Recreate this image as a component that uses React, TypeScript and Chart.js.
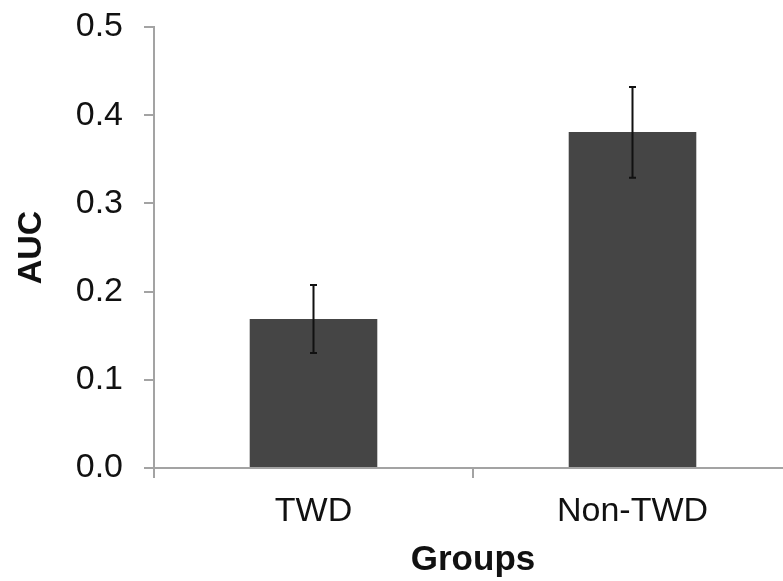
import { useEffect, useRef } from "react";
import { Chart, registerables } from "chart.js";

Chart.register(...registerables);

const categories = ["TWD", "Non-TWD"];
const aucValues = [0.169, 0.381];
const errorUpper = [0.2075, 0.432];
const errorLower = [0.1305, 0.329];
const yMin = 0;
const yMax = 0.5;
const yStep = 0.1;
const xTitle = "Groups";
const yTitle = "AUC";

const FONT = "'Liberation Sans', Arial, Helvetica, sans-serif";
const AXIS = "#a3a3a3";

const errorBarPlugin = {
  id: "errorBars",
  afterDatasetsDraw(chart: any) {
    const meta = chart.getDatasetMeta(0);
    const yScale = chart.scales.y;
    const ctx = chart.ctx;
    ctx.save();
    ctx.strokeStyle = "#111111";
    ctx.lineWidth = 2;
    meta.data.forEach((bar: any, i: number) => {
      const x = bar.x;
      const yHi = yScale.getPixelForValue(errorUpper[i]);
      const yLo = yScale.getPixelForValue(errorLower[i]);
      ctx.beginPath();
      ctx.moveTo(x, yHi);
      ctx.lineTo(x, yLo);
      ctx.moveTo(x - 3.5, yHi);
      ctx.lineTo(x + 3.5, yHi);
      ctx.moveTo(x - 3.5, yLo);
      ctx.lineTo(x + 3.5, yLo);
      ctx.stroke();
    });
    ctx.restore();
  },
};

export default function App() {
  const ref = useRef<HTMLCanvasElement | null>(null);

  useEffect(() => {
    if (!ref.current) return;
    const chart = new Chart(ref.current, {
      type: "bar",
      data: {
        labels: categories,
        datasets: [
          {
            data: aucValues,
            backgroundColor: "#454545",
            borderWidth: 0,
            barPercentage: 0.4,
            categoryPercentage: 1.0,
          },
        ],
      },
      plugins: [errorBarPlugin],
      options: {
        animation: false,
        responsive: false,
        devicePixelRatio: 1,
        layout: { padding: { top: 27, right: 0, bottom: 0, left: 0 } },
        plugins: {
          legend: { display: false },
          tooltip: { enabled: false },
        },
        scales: {
          x: {
            afterFit: (scale: any) => {
              scale.height = 113;
              scale.paddingLeft = 0;
              scale.paddingRight = 0;
            },
            grid: {
              offset: true,
              drawOnChartArea: false,
              drawTicks: true,
              tickLength: 10,
              color: AXIS,
              lineWidth: 2,
            },
            border: { color: AXIS, width: 2 },
            ticks: {
              color: "#111111",
              font: { family: FONT, size: 34 },
              padding: 13,
              maxRotation: 0,
            },
            title: {
              display: true,
              text: xTitle,
              color: "#111111",
              font: { family: FONT, size: 35, weight: "bold", lineHeight: 1.2 },
              padding: { top: 3, bottom: 0 },
            },
          },
          y: {
            min: yMin,
            max: yMax,
            afterFit: (scale: any) => {
              scale.width = 154;
              scale.paddingTop = 0;
              scale.paddingBottom = 0;
            },
            grid: {
              drawOnChartArea: false,
              drawTicks: true,
              tickLength: 10,
              color: AXIS,
              lineWidth: 2,
            },
            border: { color: AXIS, width: 2 },
            ticks: {
              stepSize: yStep,
              color: "#111111",
              font: { family: FONT, size: 34 },
              padding: 21,
              callback: (v: any) => Number(v).toFixed(1),
            },
            title: {
              display: true,
              text: yTitle,
              color: "#111111",
              font: { family: FONT, size: 34, weight: "bold", lineHeight: 1.2 },
              padding: { top: 11, bottom: 0 },
            },
          },
        },
      },
    });
    return () => chart.destroy();
  }, []);

  return (
    <div
      style={{
        position: "fixed",
        left: 0,
        top: 0,
        width: 783,
        height: 581,
        overflow: "hidden",
        background: "#ffffff",
      }}
    >
      <canvas ref={ref} width={792} height={581} style={{ display: "block" }} />
    </div>
  );
}
